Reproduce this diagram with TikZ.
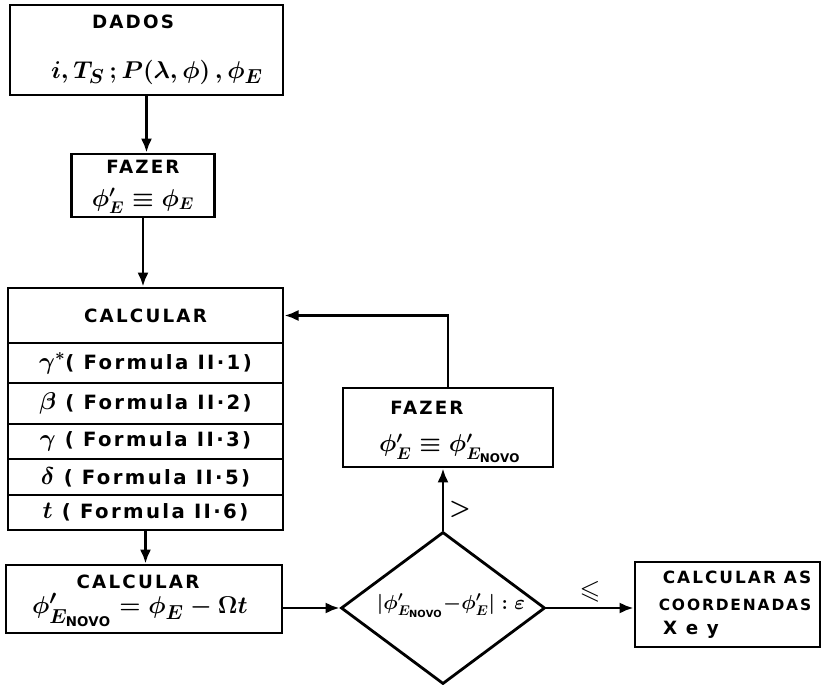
\documentclass[tikz,border=0pt]{standalone}
\usepackage{amssymb}
\usepackage{fontspec}
\setmainfont[LetterSpace=12]{DejaVu Sans}
\usetikzlibrary{arrows.meta,shapes.geometric}

\tikzset{
    box/.style={draw, line width=2pt, inner sep=0pt},
    word/.style={font=\fontsize{13}{15}\selectfont\bfseries\boldmath},
    row word/.style={font=\fontsize{14}{16}\selectfont\bfseries\boldmath},
    small word/.style={font=\fontsize{11}{13}\selectfont\bfseries},
    formula/.style={font=\fontsize{19}{22}\selectfont\boldmath},
    >={Latex[length=10pt,width=8pt]}
}
\newcommand{\phinovo}{\phi'_{E_{\mathrm{NOVO}}}}
\newcommand{\symb}[1]{{\fontsize{18}{20}\selectfont$#1$}}

\begin{document}
\begin{tikzpicture}[x=0.025cm, y=-0.025cm, line width=2pt]
    \useasboundingbox (0,0) rectangle (825,685);

    % dados
    \node[box, minimum width=6.825cm, minimum height=2.25cm] (dados) at (146.5,50) {};
    \node[word] (dadostit) at (133,22) {DADOS};
    \node[formula] (dadosval) at (157,72) {$i,T_S\,;P(\lambda,\phi)\,,\phi_E$};

    % fazer
    \node[box, minimum width=3.575cm, minimum height=1.575cm] (fazer) at (143,185.5) {};
    \node[word] (fazertit) at (143,167) {FAZER};
    \node[formula, font=\fontsize{17}{20}\selectfont\boldmath] (fazerval) at (143,201) {$\phi'_E \equiv \phi_E$};

    % calcular
    \node[box, word, minimum width=6.875cm, minimum height=1.375cm] (calc) at (145.5,315.5) {CALCULAR};
    \node[box, row word, minimum width=6.875cm, minimum height=1.0cm] (row1) at (145.5,363) {\symb{\gamma^{*}}( Formula II·1)};
    \node[box, row word, minimum width=6.875cm, minimum height=1.025cm] (row2) at (145.5,403.5) {\symb{\beta} ( Formula II·2)};
    \node[box, row word, minimum width=6.875cm, minimum height=0.875cm] (row3) at (145.5,441.5) {\symb{\gamma} ( Formula II·3)};
    \node[box, row word, minimum width=6.875cm, minimum height=0.9cm] (row4) at (145.5,477) {\symb{\delta} ( Formula II·5)};
    \node[box, row word, minimum width=6.875cm, minimum height=0.875cm] (row5) at (145.5,512.5) {\symb{t} ( Formula II·6)};

    % novo
    \node[box, minimum width=6.9cm, minimum height=1.7cm] (novo) at (144,599) {};
    \node[word] (novotit) at (138,582) {CALCULAR};
    \node[formula] (novoval) at (140,610) {$\phinovo = \phi_E - \Omega t$};

    % teste
    \node[box, diamond, minimum width=5.1cm, minimum height=3.8cm] (teste) at (443,608) {};
    \node[formula, font=\fontsize{14}{16}\selectfont\boldmath] (testeval) at (451,606) {$|\phinovo{-}\phi'_E| : \varepsilon$};

    % fazer novo
    \node[box, minimum width=5.25cm, minimum height=1.975cm] (fazer2) at (448,427.5) {};
    \node[word] (fazer2tit) at (427,408) {FAZER};
    \node[formula, font=\fontsize{17}{20}\selectfont\boldmath] (fazer2val) at (450,448) {$\phi'_E \equiv \phinovo$};

    % coordenadas
    \node[box, minimum width=4.625cm, minimum height=2.125cm] (fim) at (727.5,604.5) {};
    \node[small word, font=\fontsize{12}{14}\selectfont\bfseries] (fimtit) at (737,577) {CALCULAR AS};
    \node[small word] (fimsub) at (735,605) {COORDENADAS};
    \node[word] (fimxy) at (691,630) {X e y};

    \draw[->] (dados.south) -- (dados.south |- fazer.north);
    \draw[->] (fazer.south) -- (fazer.south |- calc.north);
    \draw[->] (row5.south) -- (row5.south |- novo.north);
    \draw[->] (novo.east |- teste) -- (teste.west);
    \draw[->] (teste.north) -- node[formula, right, pos=0.34] (maior) {$>$} (teste.north |- fazer2.south);
    \draw[->] (fazer2.north) |- (calc.east);
    \draw[->] (teste.east) -- node[formula, above] (menor) {$\leqslant$} (teste.east -| fim.west);
\end{tikzpicture}
\end{document}
